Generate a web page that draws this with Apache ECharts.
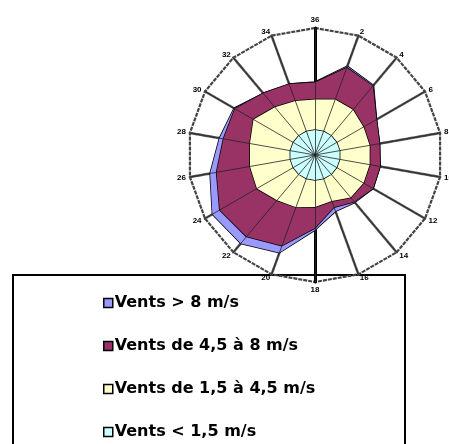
<!DOCTYPE html>
<html>
<head>
<meta charset="utf-8">
<script src="https://cdn.jsdelivr.net/npm/echarts@6/dist/echarts.min.js"></script>
<style>
html, body { margin: 0; padding: 0; background: #fff; }
#main { width: 449px; height: 444px; }
</style>
</head>
<body>
<div id="main"></div>
<script>
// wind directions (tens of degrees), read clockwise from north
var directions = ['36', '2', '4', '6', '8', '10', '12', '14', '16', '18', '20', '22', '24', '26', '28', '30', '32', '34'];

// outer edge of each band, same order as directions
var ventsFort = [57.5, 74.4, 71.7, 55.9, 51.6, 52.0, 52.8, 48.8, 47.2, 59.1, 81.9, 90.9, 93.3, 83.9, 76.4, 73.6, 63.4, 59.4];
var ventsMoyen = [57.1, 73.2, 70.9, 55.9, 51.6, 52.0, 52.8, 48.0, 43.7, 57.5, 76.0, 83.9, 86.6, 78.7, 73.2, 72.8, 63.4, 59.4];
var ventsModere = [43.7, 46.5, 46.5, 44.1, 43.7, 43.7, 44.1, 43.7, 38.6, 40.9, 43.7, 46.5, 52.8, 52.0, 52.0, 55.9, 49.2, 45.3];
var ventsFaible = [19.7, 19.7, 19.7, 19.7, 19.7, 19.7, 19.7, 19.7, 19.7, 19.7, 19.7, 19.7, 19.7, 19.7, 19.7, 19.7, 19.7, 19.7];

var seriesNames = ['Vents > 8 m/s', 'Vents de 4,5 à 8 m/s', 'Vents de 1,5 à 4,5 m/s', 'Vents < 1,5 m/s'];
var seriesColors = ['#9999FF', '#993366', '#FFFFCC', '#CCFFFF'];

// echarts places radar indicators counter-clockwise
function ccw(arr) {
    return [arr[0]].concat(arr.slice(1).reverse());
}

var myChart = echarts.init(document.getElementById('main'));

var indicators = ccw(directions).map(function (d) {
    return { name: d, max: 100 };
});

var bands = [ventsFort, ventsMoyen, ventsModere, ventsFaible];
var series = bands.map(function (band, i) {
    return {
        type: 'radar',
        radarIndex: 0,
        name: seriesNames[i],
        symbol: 'none',
        z: 2,
        itemStyle: { color: seriesColors[i] },
        lineStyle: { color: '#000', width: 1.5 },
        areaStyle: { color: seriesColors[i], opacity: 1 },
        data: [{ name: seriesNames[i], value: ccw(band) }]
    };
});

option = {
    backgroundColor: '#fff',
    animation: false,
    graphic: [{
        type: 'rect',
        z: -10,
        shape: { x: 13, y: 275, width: 392, height: 190 },
        style: { fill: '#fff', stroke: '#000', lineWidth: 2 }
    }],
    legend: {
        orient: 'vertical',
        left: 98,
        top: 289,
        height: 220,
        icon: 'rect',
        itemWidth: 9,
        itemHeight: 9,
        itemGap: 25,
        data: seriesNames,
        itemStyle: { borderColor: '#000', borderWidth: 1.5 },
        textStyle: {
            fontFamily: 'DejaVu Sans',
            fontWeight: 'bold',
            fontSize: 16,
            lineHeight: 18,
            color: '#000',
            padding: [0, 0, 0, -3]
        }
    },
    radar: [{
        // grey rim, grey spokes and direction labels
        center: [315, 155],
        radius: 127,
        shape: 'polygon',
        splitNumber: 1,
        z: 0,
        indicator: indicators,
        nameGap: 4,
        axisName: {
            color: '#000',
            fontSize: 8,
            fontWeight: 'bold',
            fontFamily: 'Liberation Sans'
        },
        axisLine: { lineStyle: { color: '#555', width: 2.5, type: [4, 1] } },
        splitLine: { lineStyle: { color: '#444', width: 2.2, type: [4, 1] } },
        splitArea: { show: false }
    }, {
        // thick north-south axis under the bands
        center: [315, 155],
        radius: 127,
        splitNumber: 1,
        z: 1,
        indicator: [{ name: '', max: 100 }, { name: '', max: 100 }],
        axisName: { show: false },
        axisLine: { lineStyle: { color: '#000', width: 3 } },
        splitLine: { show: false },
        splitArea: { show: false }
    }, {
        // thin black spokes drawn over the bands
        center: [315, 155],
        radius: 127,
        shape: 'polygon',
        splitNumber: 1,
        z: 3,
        indicator: indicators,
        axisName: { show: false },
        axisLine: { lineStyle: { color: '#222', width: 0.8 } },
        splitLine: { show: false },
        splitArea: { show: false }
    }],
    series: series
};

myChart.setOption(option);
</script>
</body>
</html>
